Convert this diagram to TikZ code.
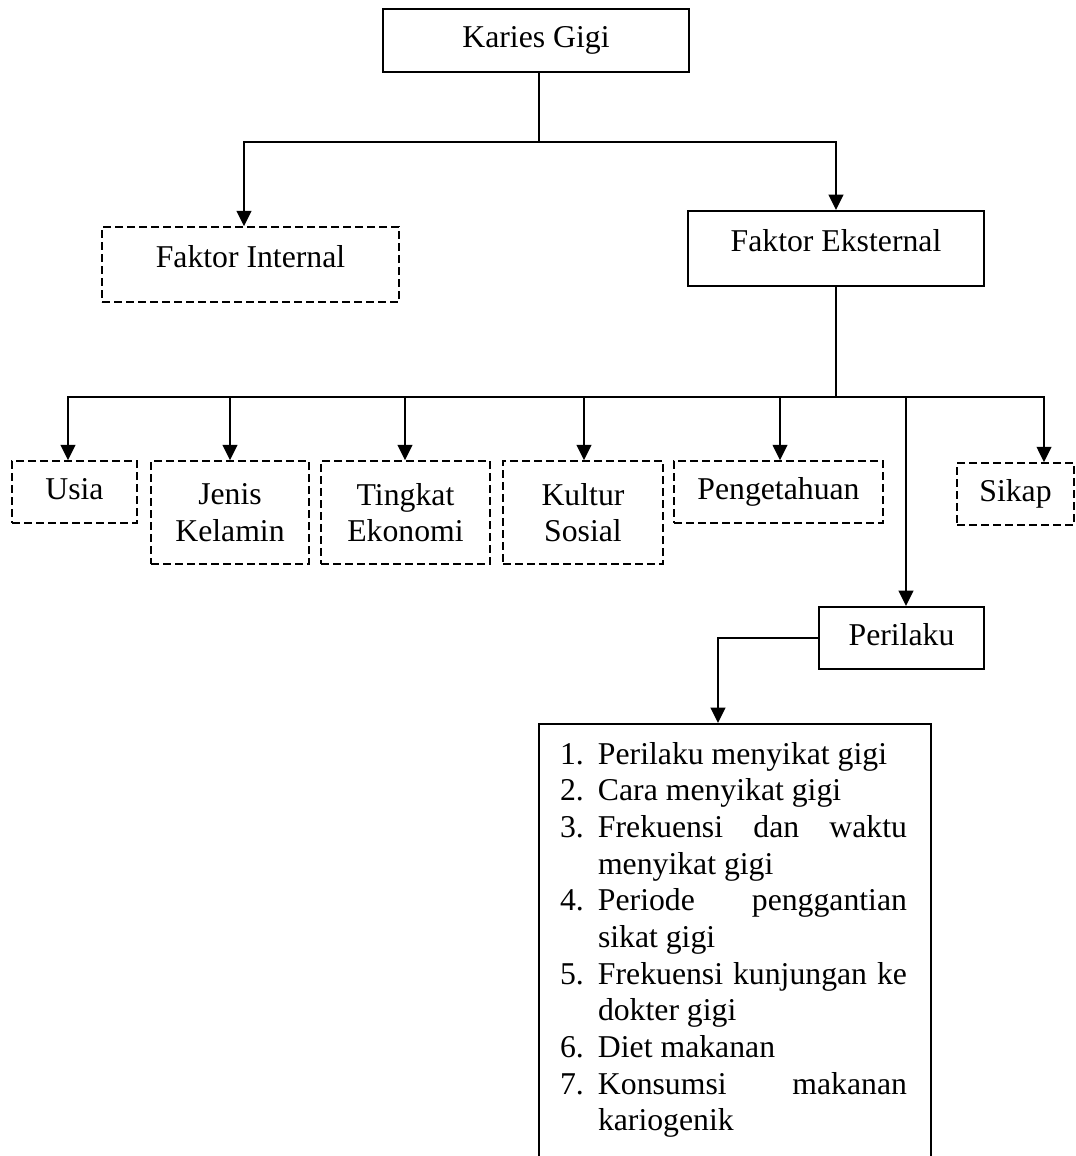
\documentclass[tikz,border=0pt]{standalone}
\usepackage{fontspec}
\setmainfont{Liberation Serif}
\usetikzlibrary{arrows.meta}
\newcommand\myli[2]{\hspace*{15.75pt}\makebox[28.5pt][l]{#1}#2}
\newcommand\myjl[2]{\hspace*{15.75pt}\makebox[28.5pt][l]{#1}\makebox[231.75pt][s]{#2}}
\newcommand\mycont[1]{\hspace*{44.25pt}#1}
\begin{document}
\begin{tikzpicture}[x=0.75pt,y=-0.75pt,
  every node/.style={font=\fontsize{23.8pt}{27.5pt}\selectfont},
  solidbox/.style={draw, line width=1.5pt, inner sep=0pt},
  dashbox/.style={draw, line width=1.3pt, dash pattern=on 6pt off 3pt, inner sep=0pt},
  oneline/.style={text height=16.3pt, text depth=5.2pt},
  shifted/.style={text height=16pt, text depth=11.6pt},
  twoline/.style={align=center},
  conn/.style={line width=1.5pt},
  arr/.style={conn, -{Triangle[length=11.5pt,width=11pt]}},
  arrboth/.style={conn, {Triangle[length=11.5pt,width=11pt]}-{Triangle[length=11.5pt,width=11pt]}}]
\useasboundingbox (0,0) rectangle (1075,1156);
\fill[white] (0,0) rectangle (1075,1156);
\clip (0,0) rectangle (1075,1156);

% top level
\node[solidbox, oneline, minimum width=229.5pt, minimum height=47.25pt] (kg) at (536,40.5) {Karies Gigi};
\node[dashbox, shifted, minimum width=222.75pt, minimum height=56.25pt] (fi) at (250.5,264.5) {Faktor Internal};
\node[solidbox, shifted, minimum width=222pt, minimum height=56.25pt] (fe) at (836,248.5) {Faktor Eksternal};

% second level
\node[dashbox, oneline, minimum width=93.75pt, minimum height=46.5pt] (usia) at (74.5,492) {Usia};
\node[dashbox, twoline, minimum width=118.5pt, minimum height=77.25pt] (jk) at (230,512.5) {Jenis\\Kelamin};
\node[dashbox, twoline, minimum width=126.75pt, minimum height=77.25pt] (te) at (405.5,512.5) {Tingkat\\Ekonomi};
\node[dashbox, twoline, minimum width=120pt, minimum height=77.25pt] (ks) at (583,512.5) {Kultur\\Sosial};
\node[dashbox, oneline, minimum width=156.75pt, minimum height=46.5pt] (pg) at (778.5,492) {Pengetahuan};
\node[dashbox, oneline, minimum width=87.75pt, minimum height=46.5pt] (sk) at (1015.5,494) {Sikap};
\node[solidbox, oneline, minimum width=123.75pt, minimum height=46.5pt] (pe) at (901.5,638) {Perilaku};

% list
\node[solidbox, anchor=north west] (list) at (538,723) {%
\begin{minipage}[c][340pt][t]{294pt}%
\rule{0pt}{30pt}\myli{1.}{Perilaku menyikat gigi}\\
\myli{2.}{Cara menyikat gigi}\\
\myjl{3.}{Frekuensi dan waktu}\\
\mycont{menyikat gigi}\\
\myjl{4.}{Periode penggantian}\\
\mycont{sikat gigi}\\
\myjl{5.}{Frekuensi kunjungan ke}\\
\mycont{dokter gigi}\\
\myli{6.}{Diet makanan}\\
\myjl{7.}{Konsumsi makanan}\\
\mycont{kariogenik}
\end{minipage}};

% connectors level 1
\coordinate (b0) at (539,142);
\coordinate (b1) at (244,142);
\draw[conn] (b0 |- kg.south) -- (b0);
\draw[arrboth] (b1 |- fi.north) -- (b1) -- (fe.north |- b1) -- (fe.north);

% connectors level 2
\coordinate (c1) at (68,397);
\coordinate (c7) at (1044,397);
\draw[conn] (fe.south) -- (fe.south |- c1);
\draw[arrboth] (c1 |- usia.north) -- (c1) -- (c7) -- (c7 |- sk.north);
\foreach \x/\n in {230/jk,405/te,584/ks,780/pg,906/pe}{
  \coordinate (a\n) at (\x,397);
  \draw[arr] (a\n) -- (a\n |- \n.north);
}

% perilaku to list
\coordinate (d1) at (718,700);
\draw[arr] (pe.west) -- (pe.west -| d1) -- (d1 |- list.north);
\end{tikzpicture}
\end{document}
